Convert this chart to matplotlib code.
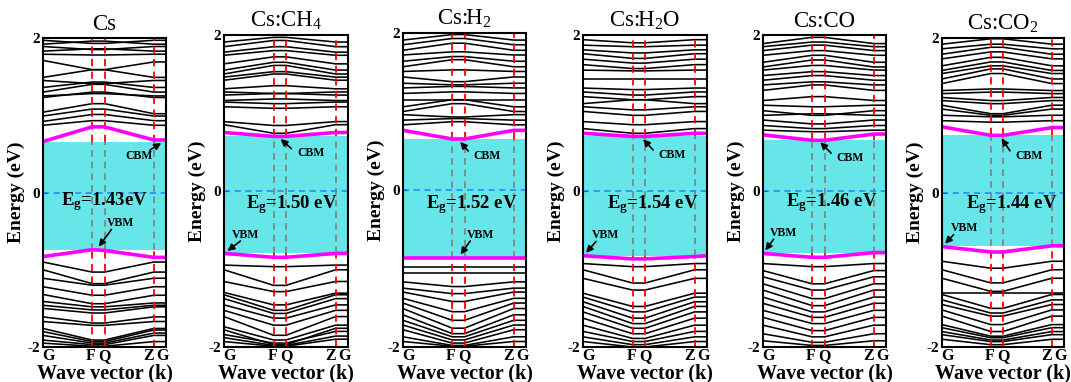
import numpy as np
import matplotlib
matplotlib.use('Agg')
import matplotlib.pyplot as plt

plt.rcParams['font.family'] = 'Liberation Serif'
plt.rcParams['mathtext.fontset'] = 'custom'
plt.rcParams['mathtext.rm'] = 'Liberation Serif'
plt.rcParams['mathtext.it'] = 'Liberation Serif:italic'
plt.rcParams['mathtext.bf'] = 'Liberation Serif:bold'

# high-symmetry path
k_pos = [0.0, 0.40, 0.50, 0.90, 1.0]
k_labels = ['G', 'F', 'Q', 'Z', 'G']

titles = ['Cs', r'Cs:CH$_4$', r'Cs:H$_2$', r'Cs:H$_2$O', 'Cs:CO', r'Cs:CO$_2$']
gap_labels = ['1.43eV', '1.50 eV', '1.52 eV', '1.54 eV', '1.46 eV', '1.44 eV']

# band edges at the five k-points (eV)
cbm = [[0.66, 0.85, 0.85, 0.68, 0.68],
       [0.75, 0.70, 0.70, 0.75, 0.75],
       [0.76, 0.65, 0.65, 0.76, 0.76],
       [0.74, 0.70, 0.70, 0.74, 0.74],
       [0.72, 0.65, 0.65, 0.73, 0.73],
       [0.85, 0.74, 0.74, 0.84, 0.84]]
vbm = [[-0.83, -0.74, -0.75, -0.84, -0.84],
       [-0.80, -0.85, -0.85, -0.80, -0.80],
       [-0.86, -0.86, -0.86, -0.86, -0.86],
       [-0.83, -0.87, -0.87, -0.84, -0.83],
       [-0.80, -0.85, -0.85, -0.79, -0.79],
       [-0.70, -0.77, -0.77, -0.69, -0.69]]

# other bands, energy at G, at F/Q and at Z/G (eV)
cs_cb = [[1.97, 1.93, 1.97], [1.92, 1.96, 1.92], [1.89, 1.85, 1.89], [1.83, 1.86, 1.83],
         [1.79, 1.78, 1.79], [1.71, 1.59, 1.69], [1.49, 1.59, 1.49], [1.45, 1.41, 1.45],
         [1.36, 1.43, 1.36], [1.30, 1.40, 1.30], [1.25, 1.28, 1.25], [1.23, 1.30, 1.23],
         [1.04, 1.15, 1.02], [0.99, 1.08, 0.99], [0.92, 1.01, 0.93], [0.87, 0.93, 0.87]]
cs_vb = [[-0.90, -1.03, -0.90], [-1.00, -1.18, -1.03], [-1.11, -1.20, -1.11], [-1.22, -1.33, -1.22],
         [-1.32, -1.44, -1.33], [-1.41, -1.48, -1.43], [-1.46, -1.52, -1.46], [-1.50, -1.56, -1.48],
         [-1.61, -1.69, -1.61], [-1.67, -1.72, -1.67], [-1.76, -1.91, -1.76], [-1.80, -1.93, -1.78],
         [-1.85, -1.95, -1.82], [-1.91, -1.97, -1.85], [-1.95, -1.99, -1.93]]

ch4_cb = [[1.91, 1.97, 1.91], [1.85, 1.93, 1.85], [1.78, 1.85, 1.78], [1.74, 1.80, 1.74],
          [1.63, 1.72, 1.63], [1.55, 1.65, 1.55], [1.50, 1.61, 1.50], [1.46, 1.53, 1.46],
          [1.42, 1.50, 1.42], [1.31, 1.35, 1.31], [1.27, 1.25, 1.27], [1.23, 1.25, 1.23],
          [1.16, 1.18, 1.16], [1.14, 1.12, 1.14], [1.08, 1.06, 1.08], [0.89, 0.84, 0.89],
          [0.85, 0.74, 0.85]]
ch4_vb = [[-0.95, -0.97, -0.95], [-1.01, -1.21, -1.01], [-1.16, -1.29, -1.16], [-1.30, -1.46, -1.31],
          [-1.33, -1.53, -1.33], [-1.38, -1.57, -1.38], [-1.46, -1.63, -1.46], [-1.53, -1.72, -1.53],
          [-1.61, -1.85, -1.61], [-1.74, -1.91, -1.72], [-1.78, -1.97, -1.76], [-1.84, -1.95, -1.80],
          [-1.88, -1.98, -1.86], [-1.93, -1.99, -1.90]]

h2_cb = [[1.91, 1.98, 1.91], [1.85, 1.93, 1.85], [1.78, 1.87, 1.78], [1.72, 1.76, 1.72],
         [1.64, 1.70, 1.64], [1.57, 1.66, 1.57], [1.51, 1.53, 1.51], [1.44, 1.38, 1.44],
         [1.36, 1.34, 1.36], [1.30, 1.32, 1.30], [1.23, 1.25, 1.23], [1.15, 1.15, 1.15],
         [1.06, 1.15, 1.06], [1.00, 1.10, 1.00], [0.96, 0.93, 0.96], [0.89, 0.91, 0.89],
         [0.83, 0.87, 0.83]]
h2_vb = [[-0.98, -0.98, -0.98], [-1.06, -1.06, -1.06], [-1.17, -1.23, -1.17], [-1.25, -1.32, -1.25],
         [-1.30, -1.42, -1.30], [-1.38, -1.55, -1.38], [-1.44, -1.66, -1.44], [-1.51, -1.76, -1.51],
         [-1.59, -1.83, -1.59], [-1.66, -1.87, -1.66], [-1.72, -1.91, -1.72], [-1.78, -1.95, -1.78],
         [-1.87, -1.98, -1.87], [-1.93, -1.99, -1.93]]

h2o_cb = [[1.94, 1.90, 1.94], [1.87, 1.85, 1.87], [1.81, 1.77, 1.81], [1.76, 1.70, 1.76],
          [1.69, 1.64, 1.69], [1.62, 1.57, 1.62], [1.55, 1.54, 1.55], [1.44, 1.44, 1.44],
          [1.32, 1.30, 1.32], [1.27, 1.23, 1.27], [1.21, 1.17, 1.21], [1.12, 1.17, 1.12],
          [1.08, 1.04, 1.08], [1.02, 0.97, 1.02], [0.89, 0.85, 0.89], [0.80, 0.74, 0.80]]
h2o_vb = [[-0.93, -0.97, -0.93], [-1.01, -1.18, -1.01], [-1.12, -1.27, -1.12], [-1.31, -1.48, -1.31],
          [-1.36, -1.55, -1.36], [-1.42, -1.63, -1.42], [-1.48, -1.70, -1.48], [-1.55, -1.76, -1.55],
          [-1.63, -1.83, -1.63], [-1.72, -1.89, -1.72], [-1.80, -1.93, -1.80], [-1.87, -1.97, -1.87],
          [-1.93, -2.00, -1.93]]

co_cb = [[1.89, 1.97, 1.89], [1.85, 1.91, 1.85], [1.80, 1.87, 1.80], [1.74, 1.80, 1.74],
         [1.65, 1.74, 1.65], [1.59, 1.68, 1.59], [1.55, 1.61, 1.55], [1.48, 1.53, 1.48],
         [1.42, 1.48, 1.42], [1.36, 1.40, 1.36], [1.29, 1.36, 1.29], [1.16, 1.21, 1.16],
         [1.10, 1.08, 1.10], [1.03, 0.97, 1.03], [0.97, 0.99, 0.97], [0.91, 0.86, 0.91],
         [0.84, 0.80, 0.84], [0.78, 0.76, 0.78]]
co_vb = [[-0.93, -0.97, -0.93], [-1.02, -1.19, -1.02], [-1.10, -1.27, -1.10], [-1.19, -1.38, -1.19],
         [-1.27, -1.47, -1.27], [-1.36, -1.55, -1.36], [-1.44, -1.62, -1.44], [-1.53, -1.70, -1.53],
         [-1.62, -1.79, -1.62], [-1.72, -1.87, -1.72], [-1.83, -1.94, -1.83], [-1.92, -1.98, -1.92]]

co2_cb = [[1.92, 1.99, 1.92], [1.86, 1.92, 1.86], [1.79, 1.88, 1.79], [1.73, 1.82, 1.73],
          [1.64, 1.75, 1.64], [1.58, 1.69, 1.58], [1.54, 1.64, 1.54], [1.47, 1.60, 1.47],
          [1.41, 1.54, 1.41], [1.32, 1.34, 1.32], [1.28, 1.30, 1.28], [1.23, 1.19, 1.23],
          [1.19, 1.15, 1.19], [1.13, 1.02, 1.13], [1.08, 1.00, 1.08], [1.00, 0.98, 1.00],
          [0.93, 0.91, 0.93]]
co2_vb = [[-0.89, -0.98, -0.89], [-1.00, -1.17, -1.00], [-1.11, -1.28, -1.11], [-1.30, -1.30, -1.30],
          [-1.32, -1.50, -1.32], [-1.39, -1.56, -1.39], [-1.45, -1.60, -1.45], [-1.52, -1.71, -1.52],
          [-1.60, -1.80, -1.60], [-1.71, -1.86, -1.71], [-1.75, -1.88, -1.75], [-1.80, -1.91, -1.80],
          [-1.84, -1.93, -1.84], [-1.90, -1.97, -1.90]]

cond_bands = [cs_cb, ch4_cb, h2_cb, h2o_cb, co_cb, co2_cb]
val_bands = [cs_vb, ch4_vb, h2_vb, h2o_vb, co_vb, co2_vb]

# label layout: (text x, text y, arrow tail, arrow head) in data coords
cbm_notes = [((0.78, 0.47), (0.85, 0.53), (0.98, 0.66)),
             ((0.70, 0.49), (0.56, 0.52), (0.44, 0.69)),
             ((0.68, 0.43), (0.545, 0.47), (0.45, 0.64)),
             ((0.72, 0.46), (0.58, 0.50), (0.47, 0.69)),
             ((0.71, 0.42), (0.57, 0.46), (0.45, 0.65)),
             ((0.71, 0.47), (0.57, 0.51), (0.475, 0.73))]
vbm_notes = [((0.63, -0.39), (0.57, -0.45), (0.44, -0.73)),
             ((0.17, -0.56), (0.15, -0.62), (0.01, -0.79)),
             ((0.63, -0.57), (0.56, -0.62), (0.455, -0.85)),
             ((0.18, -0.56), (0.12, -0.62), (0.01, -0.82)),
             ((0.17, -0.54), (0.10, -0.59), (0.005, -0.79)),
             ((0.185, -0.46), (0.11, -0.52), (0.01, -0.69))]
gap_text_pos = [(0.15, -0.12), (0.18, -0.18), (0.19, -0.18), (0.19, -0.17), (0.19, -0.15), (0.20, -0.15)]
# where the k-point letters sit under each panel
k_label_pos = [0.045, 0.39, 0.50, 0.86, 0.975]

W, H = 1071, 382
boxes = [(43, 166, 38), (224, 348, 35), (403, 526, 33), (583, 707, 35), (763, 886, 35), (942, 1064, 38)]
bottom_px = 347

fig = plt.figure(figsize=(W / 100, H / 100), dpi=100)

for i in range(6):
    l, r, t = boxes[i]
    ax = fig.add_axes([l / W, (H - bottom_px) / H, (r - l) / W, (bottom_px - t) / H])
    ax.set_xlim(0, 1)
    ax.set_ylim(-2, 2)

    lo = max(vbm[i])
    hi = min(cbm[i])
    ax.axhspan(lo, hi, color='#66e6e8', lw=0, zorder=1)

    for b in cond_bands[i] + val_bands[i]:
        ax.plot(k_pos, [b[0], b[1], b[1], b[2], b[2]], color='k', lw=1.15, zorder=2)

    for x in k_pos[1:4]:
        ax.plot([x, x], [hi, 2], color='red', ls=(0, (4, 3)), lw=1.3, zorder=3)
        ax.plot([x, x], [-2, lo], color='red', ls=(0, (4, 3)), lw=1.3, zorder=3)
        ax.plot([x, x], [lo, hi], color='#808080', ls=(0, (4, 3)), lw=1.2, zorder=3)

    ax.axhline(0, color='#1e88f0', ls=(0, (4, 3)), lw=1.1, zorder=3)
    ax.plot(k_pos, cbm[i], color='#ff00ff', lw=2.6, zorder=4)
    ax.plot(k_pos, vbm[i], color='#ff00ff', lw=2.6, zorder=4)

    (tx, ty), tail, head = cbm_notes[i]
    ax.text(tx, ty, 'CBM', fontsize=8.5, fontweight='bold', ha='center', va='center', zorder=6)
    ax.annotate('', xy=head, xytext=tail, zorder=6,
                arrowprops=dict(arrowstyle='-|>', color='k', lw=1.2, mutation_scale=10))
    (tx, ty), tail, head = vbm_notes[i]
    ax.text(tx, ty, 'VBM', fontsize=8.5, fontweight='bold', ha='center', va='center', zorder=6)
    ax.annotate('', xy=head, xytext=tail, zorder=6,
                arrowprops=dict(arrowstyle='-|>', color='k', lw=1.2, mutation_scale=10))

    gx, gy = gap_text_pos[i]
    ax.text(gx, gy, r'E$_\mathbf{g}$=' + gap_labels[i], fontsize=13.5, fontweight='bold',
            ha='left', va='center', zorder=6)

    ax.set_title(titles[i], fontsize=16.5, pad=6)

    ax.set_yticks([-2, 0, 2])
    ax.set_yticklabels(['-2', '0', '2'], fontweight='bold', fontsize=11)
    ax.tick_params(axis='y', direction='in', length=3, pad=2)
    ax.set_ylabel('Energy (eV)', fontsize=14, fontweight='bold', labelpad=2)

    ax.set_xticks(k_label_pos)
    ax.set_xticklabels(k_labels, fontweight='bold', fontsize=11.5)
    ax.tick_params(axis='x', length=0, pad=1)
    ax.set_xlabel('Wave vector (k)', fontsize=14.5, fontweight='bold', labelpad=-1)

    for s in ax.spines.values():
        s.set_linewidth(1.5)
        s.set_zorder(7)

fig.savefig('out.png', dpi=100)
